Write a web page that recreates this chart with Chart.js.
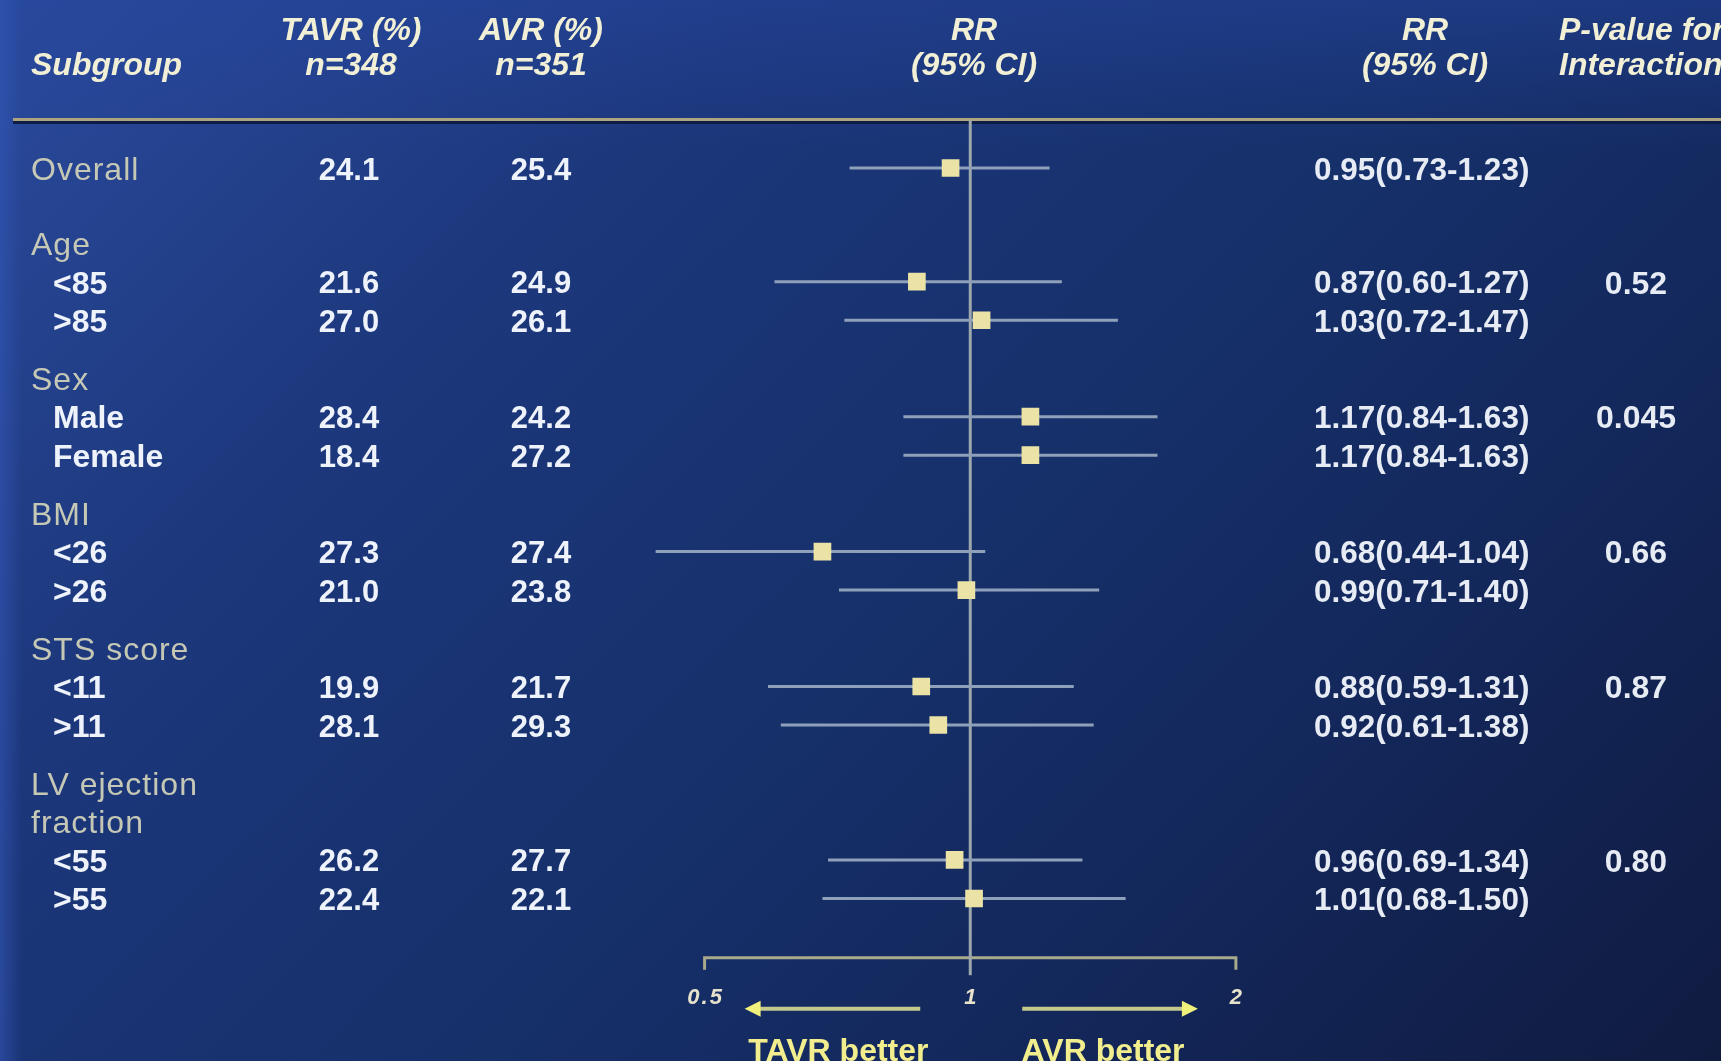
<!DOCTYPE html>
<html>
<head>
<meta charset="utf-8">
<title>TAVR vs AVR subgroup analysis</title>
<script src="https://cdn.jsdelivr.net/npm/chart.js@4.4.1/dist/chart.umd.min.js"></script>
<style>
  html, body { margin: 0; padding: 0; width: 1721px; height: 1061px; overflow: hidden; }
  body {
    background:
      linear-gradient(90deg, rgba(52, 88, 185, 0.55) 0px, rgba(52, 88, 185, 0) 22px),
      linear-gradient(180deg, rgba(38, 70, 160, 0.45) 0%, rgba(38, 70, 160, 0) 14%),
      linear-gradient(135deg, #2a4a9c 0%, #1c377b 28%, #16306a 55%, #13275a 75%, #101b40 100%);
  }
  #wrap { position: absolute; left: 0; top: 0; width: 1721px; height: 1061px; }
  canvas { display: block; }
</style>
</head>
<body>
<div id="wrap"><canvas id="forest" width="1721" height="1061"></canvas></div>
<script>
// ---- Subgroup data (one entry per plotted row) ----
const subgroups = ['Overall', '<85', '>85', 'Male', 'Female', '<26', '>26', '<11', '>11', '<55', '>55'];
const groups = [null, 'Age', 'Age', 'Sex', 'Sex', 'BMI', 'BMI', 'STS score', 'STS score',
                'LV ejection\nfraction', 'LV ejection\nfraction'];
const tavrPct = [24.1, 21.6, 27.0, 28.4, 18.4, 27.3, 21.0, 19.9, 28.1, 26.2, 22.4];
const avrPct  = [25.4, 24.9, 26.1, 24.2, 27.2, 27.4, 23.8, 21.7, 29.3, 27.7, 22.1];
const rr      = [0.95, 0.87, 1.03, 1.17, 1.17, 0.68, 0.99, 0.88, 0.92, 0.96, 1.01];
const ciLow   = [0.73, 0.60, 0.72, 0.84, 0.84, 0.44, 0.71, 0.59, 0.61, 0.69, 0.68];
const ciHigh  = [1.23, 1.27, 1.47, 1.63, 1.63, 1.04, 1.40, 1.31, 1.38, 1.34, 1.50];
const pInteraction = ['', '0.52', '', '0.045', '', '0.66', '', '0.87', '', '0.80', ''];

// ---- Axis ----
const xTicks = ['0.5', '1', '2'];
const xTickValues = [0.5, 1, 2];
const favourLeft = 'TAVR better';
const favourRight = 'AVR better';

// ---- Column headers ----
const headSubgroup = 'Subgroup';
const headTavr = ['TAVR (%)', 'n=348'];
const headAvr = ['AVR (%)', 'n=351'];
const headRR = ['RR', '(95% CI)'];
const headP = ['P-value for', 'Interaction'];

// Row layout: one slot per text line, extra spacing between groups
const rowY = [];
const headerLines = [];
(function layoutRows() {
  let cursor = 0;
  subgroups.forEach((s, i) => {
    if (i > 0) {
      cursor += 1;
      if (groups[i] !== groups[i - 1]) {
        cursor += (i === 1 ? 0.95 : 0.5);
        groups[i].split('\n').forEach(line => { headerLines.push({ text: line, y: cursor }); cursor += 1; });
      }
    }
    rowY.push(cursor);
  });
})();

const Y_MIN = -1.25, Y_MAX = 20.95, AXIS_Y = 20.49;
const TEXT_DY = 3;   // optical nudge: text centre sits a little below the marker row
const FONT = '"Liberation Sans", Arial, Helvetica, sans-serif';

function fmt2(v) { return v.toFixed(2); }
function rrText(i) { return fmt2(rr[i]) + '(' + fmt2(ciLow[i]) + '-' + fmt2(ciHigh[i]) + ')'; }
function spacing(ctx, px) { if ('letterSpacing' in ctx) ctx.letterSpacing = px + 'px'; }

const tablePlugin = {
  id: 'forestTable',
  beforeDatasetsDraw(chart) {
    const ctx = chart.ctx;
    const xs = chart.scales.x, ys = chart.scales.y;
    ctx.save();
    // header rule
    ctx.fillStyle = '#0e1c48';
    ctx.fillRect(13, 121, 1708, 3);
    ctx.fillStyle = '#aea47e';
    ctx.fillRect(13, 118, 1708, 3);

    // axis line between 0.5 and 2 with ticks
    const ay = ys.getPixelForValue(AXIS_Y);
    const x0 = xs.getPixelForValue(xTickValues[0]);
    const x2 = xs.getPixelForValue(xTickValues[xTickValues.length - 1]);
    ctx.strokeStyle = '#a9a98c';
    ctx.lineWidth = 3;
    ctx.beginPath();
    ctx.moveTo(x0, ay + 12); ctx.lineTo(x0, ay); ctx.lineTo(x2, ay); ctx.lineTo(x2, ay + 12);
    ctx.stroke();

    // tick labels
    ctx.fillStyle = '#e6e2cc';
    ctx.font = 'italic bold 22px ' + FONT;
    spacing(ctx, 2);
    ctx.textAlign = 'center';
    ctx.textBaseline = 'middle';
    xTickValues.forEach((v, k) => ctx.fillText(xTicks[k], xs.getPixelForValue(v) + 1, ay + 40));
    spacing(ctx, 0);

    // direction arrows
    const x1 = xs.getPixelForValue(1);
    const arrowY = ay + 51;
    function arrow(from, to) {
      const dir = Math.sign(to - from);
      ctx.strokeStyle = '#c4c98c';
      ctx.lineWidth = 4;
      ctx.beginPath(); ctx.moveTo(from, arrowY); ctx.lineTo(to - dir * 8, arrowY); ctx.stroke();
      ctx.fillStyle = '#f0f07c';
      ctx.beginPath();
      ctx.moveTo(to, arrowY);
      ctx.lineTo(to - dir * 16, arrowY - 8);
      ctx.lineTo(to - dir * 16, arrowY + 8);
      ctx.closePath(); ctx.fill();
    }
    arrow(x1 - 50, x0 + 40);
    arrow(x1 + 52, x2 - 38);
    ctx.fillStyle = '#f2ee8e';
    ctx.font = 'bold 32px ' + FONT;
    ctx.textBaseline = 'alphabetic';
    ctx.fillText(favourLeft, (x0 + x1) / 2 + 1, 1061);
    ctx.fillText(favourRight, (x1 + x2) / 2, 1061);
    ctx.restore();
  },
  afterDatasetsDraw(chart) {
    const ctx = chart.ctx;
    const ys = chart.scales.y;
    ctx.save();
    ctx.textBaseline = 'middle';

    // column headers
    ctx.fillStyle = '#f1f0d6';
    ctx.font = 'italic bold 32px ' + FONT;
    ctx.textAlign = 'left';
    ctx.fillText(headSubgroup, 31, 66);
    ctx.textAlign = 'center';
    [[headTavr, 351], [headAvr, 541], [headRR, 974], [headRR, 1425]].forEach(([lines, cx]) => {
      ctx.fillText(lines[0], cx, 31);
      ctx.fillText(lines[1], cx, 66);
    });
    ctx.textAlign = 'left';
    ctx.fillText(headP[0], 1559, 31);
    ctx.fillText(headP[1], 1559, 66);

    // group headings
    ctx.fillStyle = '#c6c8b6';
    ctx.font = '32px ' + FONT;
    spacing(ctx, 1);
    headerLines.forEach(h => ctx.fillText(h.text, 31, ys.getPixelForValue(h.y) + TEXT_DY));
    spacing(ctx, 0);

    subgroups.forEach((s, i) => {
      const y = ys.getPixelForValue(rowY[i]) + TEXT_DY;
      ctx.textAlign = 'left';
      if (groups[i] === null) {
        ctx.fillStyle = '#c6c8b6';
        ctx.font = '32px ' + FONT;
        spacing(ctx, 1);
        ctx.fillText(s, 31, y);
        spacing(ctx, 0);
      } else {
        ctx.fillStyle = '#eef2fa';
        ctx.font = 'bold 32px ' + FONT;
        ctx.fillText(s, 53, y);
      }
      ctx.fillStyle = '#eef2fa';
      ctx.font = 'bold 31px ' + FONT;
      ctx.textAlign = 'center';
      ctx.fillText(tavrPct[i].toFixed(1), 349, y);
      ctx.fillText(avrPct[i].toFixed(1), 541, y);
      ctx.textAlign = 'left';
      ctx.fillStyle = '#e6ebf4';
      ctx.font = 'bold 31.5px ' + FONT;
      ctx.fillText(rrText(i), 1314, y);
      if (pInteraction[i]) {
        ctx.font = 'bold 32px ' + FONT;
        ctx.textAlign = 'center';
        ctx.fillText(pInteraction[i], 1636, y);
      }
    });
    ctx.restore();
  }
};

const ciDatasets = subgroups.map((s, i) => ({
  type: 'line',
  label: s + ' 95% CI',
  data: [{ x: ciLow[i], y: rowY[i] }, { x: ciHigh[i], y: rowY[i] }],
  borderColor: '#8fa0ba',
  borderWidth: 3,
  pointRadius: 0,
  order: 1
}));

new Chart(document.getElementById('forest'), {
  type: 'scatter',
  data: {
    datasets: [
      {
        label: 'RR',
        data: rr.map((v, i) => ({ x: v, y: rowY[i] })),
        pointStyle: 'rect',
        pointRadius: 12.5,
        pointHoverRadius: 12.5,
        backgroundColor: '#ebe3a6',
        borderColor: '#ebe3a6',
        borderWidth: 0,
        order: 0
      },
      ...ciDatasets,
      {
        type: 'line',
        label: 'No effect',
        data: [{ x: 1, y: Y_MIN }, { x: 1, y: Y_MAX }],
        borderColor: '#9da8ad',
        borderWidth: 3,
        pointRadius: 0,
        order: 2
      }
    ]
  },
  options: {
    responsive: false,
    devicePixelRatio: 1,
    animation: false,
    layout: { padding: { left: 438.95, right: 219.45, top: 119.8, bottom: 85.4 } },
    plugins: { legend: { display: false }, tooltip: { enabled: false }, title: { display: false } },
    events: [],
    scales: {
      x: { type: 'logarithmic', min: 0.25, max: 4, display: false },
      y: { type: 'linear', min: Y_MIN, max: Y_MAX, reverse: true, display: false }
    }
  },
  plugins: [tablePlugin]
});
</script>
</body>
</html>
